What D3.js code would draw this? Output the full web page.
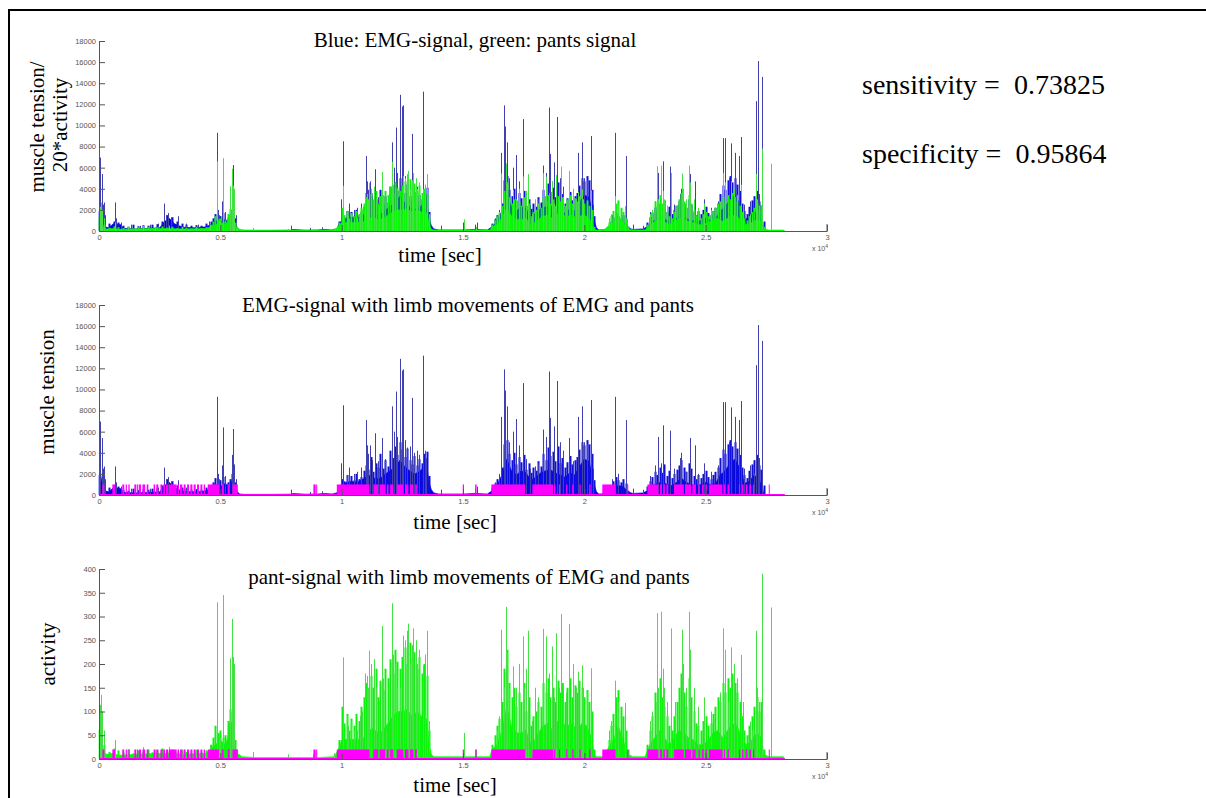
<!DOCTYPE html>
<html>
<head>
<meta charset="utf-8">
<script src="https://cdn.jsdelivr.net/npm/d3@7"></script>
<style>
  body { margin: 0; background: #fff; }
  svg { display: block; }
</style>
</head>
<body>
<svg id="fig" width="1206" height="798"></svg>
<script>
// ---- data (time in seconds) ----
const timeTicks = [0, 5000, 10000, 15000, 20000, 25000, 30000];
const tensionTicks = [0, 2000, 4000, 6000, 8000, 10000, 12000, 14000, 16000, 18000];
const activityTicks = [0, 50, 100, 150, 200, 250, 300, 350, 400];

// EMG signal: solid core of the trace [t, tension]
const emgBody = [
  [0,1800],[50,2200],[150,900],[250,400],[400,300],[600,700],[900,600],[1000,250],[1500,200],
  [2000,250],[2500,300],[2700,900],[2900,1200],[3100,700],[3300,500],[3500,350],[4000,300],
  [4400,400],[4600,600],[4800,1000],[5000,800],[5200,1100],[5400,800],[5500,1500],[5600,800],
  [5700,300],[5800,100],[6000,60],[7000,60],[7900,80],[8000,150],[8500,80],[9000,100],[9300,150],
  [9600,100],[9800,200],[9900,700],[10000,1000],[10200,1200],[10400,1300],[10600,1200],[10800,1400],
  [11000,1700],[11200,1900],[11400,1500],[11600,1600],[11800,2000],[12000,2300],[12200,2700],
  [12400,3300],[12600,2700],[12800,2300],[13000,2000],[13200,2200],[13400,2700],[13500,2900],
  [13600,1200],[13700,500],[13800,200],[14000,100],[15000,100],[15500,150],[16000,100],[16200,400],
  [16400,900],[16600,1900],[16800,3400],[17000,2300],[17200,1900],[17400,2300],[17600,2100],
  [17800,1400],[18000,1700],[18200,2100],[18400,2300],[18600,2400],[18800,2100],[19000,1900],
  [19200,1700],[19400,2100],[19600,1900],[19800,2700],[20000,3400],[20200,3200],[20400,1100],
  [20500,300],[20600,100],[21000,150],[21200,600],[21400,900],[21600,800],[21800,300],[22000,150],
  [22400,200],[22600,400],[22800,900],[23000,1100],[23200,1300],[23400,1000],[23600,900],
  [23800,1200],[24000,1600],[24200,1200],[24400,1000],[24600,900],[24800,1000],[25000,1200],
  [25200,1000],[25400,1100],[25600,1900],[25800,2300],[26000,3000],[26200,3400],[26400,2600],
  [26600,1100],[26800,1300],[27000,1900],[27200,1500],[27350,600],[27400,0]
];

// EMG signal: fine fluctuations above the core [t, tension]
const emgHair = [
  [200,1200],[400,700],[600,900],[800,800],[1000,500],[1200,400],[1400,600],[1600,450],[1800,550],
  [2000,500],[2200,600],[2400,650],[2600,900],[2800,1500],[3000,1300],[3200,900],[3400,700],
  [3600,600],[3800,500],[4000,550],[4200,500],[4400,700],[4600,900],[4700,1200],[4800,1600],
  [5000,1400],[5100,1700],[5300,1200],[5400,1500],[5500,2000],[5600,1200],
  [9900,900],[10000,1500],[10100,1300],[10200,1900],[10300,1200],[10400,1800],[10500,1400],
  [10600,2000],[10700,1500],[10800,1700],[10900,2300],[11000,2800],[11100,2400],[11200,3600],
  [11300,2200],[11400,3000],[11500,2600],[11600,3900],[11700,2500],[11800,3300],[11900,2700],
  [12000,4200],[12100,3500],[12200,4600],[12300,3800],[12400,5000],[12500,4300],[12600,3600],
  [12700,4400],[12800,3300],[12900,2900],[13000,3700],[13100,2800],[13200,3400],[13300,3000],
  [13400,3900],[13500,4100],[13600,1800],
  [16200,700],[16300,1100],[16400,1500],[16500,1300],[16600,2600],[16700,4800],[16800,5200],
  [16900,3900],[17000,3300],[17100,4000],[17200,2900],[17300,3600],[17400,3100],[17500,3800],
  [17600,2400],[17700,3000],[17800,2100],[17900,2600],[18000,2300],[18100,3200],[18200,2700],
  [18300,3900],[18400,3300],[18500,4500],[18600,3700],[18700,4100],[18800,3200],[18900,4600],
  [19000,3000],[19100,3500],[19200,2600],[19300,3100],[19400,3700],[19500,2900],[19600,3300],
  [19700,3600],[19800,4300],[19900,5000],[20000,4700],[20100,5200],[20200,4800],[20300,3900],
  [20400,1400],
  [21000,400],[21100,900],[21200,1300],[21300,1700],[21400,1400],[21500,1200],[21600,1500],
  [21700,1100],[21800,400],
  [22600,800],[22700,1300],[22800,1700],[22900,2200],[23000,1900],[23100,2600],[23200,2100],
  [23300,2900],[23400,1800],[23500,2300],[23600,1600],[23700,2000],[23800,2400],[23900,2800],
  [24000,3300],[24100,2600],[24200,2200],[24300,3000],[24400,2500],[24500,1800],[24600,1500],
  [24700,1900],[24800,1600],[24900,2000],[25000,2300],[25100,1700],[25200,1500],[25300,1900],
  [25400,2200],[25500,2600],[25600,3500],[25700,4300],[25800,3900],[25900,4800],[26000,5200],
  [26100,4600],[26200,5000],[26300,4400],[26400,3800],[26500,2600],[26600,1900],[26700,1600],
  [26800,2300],[26900,2900],[27000,3300],[27100,3800],[27200,2800],[27300,2400],[27400,900]
];

// EMG signal: isolated peaks [t, tension]
const emgSpikes = [
  [30,6950],[60,6800],[120,5400],[180,2500],[220,2700],[260,1500],[660,2700],[720,1200],[900,800],
  [1300,600],[1700,500],[2100,600],[2450,700],[2680,2600],[2760,1500],[2850,1700],[2950,1300],
  [3270,1400],[3600,700],[4100,600],[4550,900],[4850,9300],[4900,2000],[4950,1500],[5050,2800],
  [5120,6400],[5200,1800],[5480,3800],[5530,6250],[5570,2900],[5650,1500],[7900,500],[8700,300],
  [9200,350],[9960,3000],[10070,8500],[10200,1900],[10300,2600],[10500,2000],[10650,2200],
  [10800,2600],[10990,7100],[11030,4700],[11100,3900],[11170,4700],[11230,3300],[11370,5850],
  [11500,3200],[11680,5400],[11800,3400],[12060,8400],[12150,6000],[12220,9800],[12300,5500],
  [12390,12900],[12470,11800],[12540,11900],[12600,5200],[12680,4500],[12800,4600],[12910,9200],
  [13000,4000],[13100,4200],[13200,3800],[13370,13200],[13420,4200],[13480,3500],[14100,500],
  [15000,800],[15480,600],[15560,800],[16300,1200],[16500,2000],[16580,7400],[16690,11900],
  [16750,9900],[16810,8400],[16900,5000],[17040,6000],[17200,7200],[17300,4700],[17480,10600],
  [17600,3400],[17750,2500],[17960,2700],[18100,3000],[18310,6200],[18440,5500],[18530,11700],
  [18580,7300],[18750,6500],[18860,10800],[19000,5000],[19130,4200],[19380,5400],[19550,3200],
  [19750,7400],[19890,8400],[20000,5000],[20100,4800],[20260,9000],[20350,2500],[21000,600],
  [21150,1500],[21270,9300],[21400,2000],[21710,7100],[22000,600],[22400,500],[22700,1800],
  [22900,2800],[23030,5500],[23150,3000],[23260,6600],[23510,6100],[23700,2500],[23950,3500],
  [24000,4000],[24200,2200],[24370,5400],[24560,4700],[24700,2000],[24920,3000],[25200,2200],
  [25500,2800],[25720,8800],[25810,8800],[25950,5000],[26050,8300],[26200,7400],[26360,7100],
  [26460,8900],[26600,2500],[26820,2800],[26980,2000],[27090,12300],[27140,16100],[27180,3500],
  [27330,14600]
];

// pants signal: solid core of the trace [t, activity]
const pantsBody = [
  [0,60],[100,40],[200,15],[300,10],[600,12],[800,8],[1500,10],[2500,12],[3500,10],[4400,12],
  [4600,20],[4800,30],[5000,40],[5200,30],[5300,45],[5400,80],[5500,75],[5600,25],[5700,12],
  [5900,5],[6500,3],[9000,3],[9700,5],[9900,25],[10000,40],[10300,42],[10600,40],[10900,45],
  [11100,60],[11300,65],[11500,55],[11700,60],[11900,75],[12100,90],[12300,100],[12500,100],
  [12700,105],[12900,90],[13100,100],[13300,90],[13500,85],[13600,30],[13700,10],[13800,5],
  [16100,5],[16200,20],[16400,30],[16600,60],[16800,110],[17000,70],[17200,55],[17400,55],
  [17600,60],[17800,30],[17950,40],[18100,55],[18300,70],[18500,75],[18700,60],[18900,80],
  [19100,75],[19300,70],[19500,75],[19700,60],[19900,75],[20100,70],[20300,45],[20400,10],
  [20500,5],[20800,5],[21000,25],[21200,40],[21400,70],[21600,40],[21800,10],[22000,5],[22500,5],
  [22700,30],[22900,45],[23100,60],[23300,45],[23500,30],[23700,45],[23900,60],[24100,55],
  [24300,45],[24500,40],[24700,30],[24900,30],[25100,40],[25300,55],[25500,60],[25700,45],
  [25900,60],[26100,75],[26300,70],[26500,40],[26700,30],[26900,40],[27100,55],[27300,45],
  [27400,10],[27600,5],[28200,5],[28260,0]
];

// pants signal: fine fluctuations above the core [t, activity]
const pantsHair = [
  [200,30],[400,15],[600,22],[800,18],[1000,14],[1200,20],[1400,12],[1600,18],[1800,15],[2000,20],
  [2200,14],[2400,18],[2600,22],[2800,16],[3000,20],[3200,14],[3400,18],[3600,15],[3800,12],
  [4000,16],[4200,14],[4400,18],[4600,30],[4700,45],[4800,70],[4900,55],[5000,60],[5100,45],
  [5200,50],[5300,80],[5400,105],[5500,100],[5600,40],
  [9900,40],[10000,110],[10100,75],[10200,95],[10300,60],[10400,85],[10500,70],[10600,95],
  [10700,80],[10800,110],[10900,130],[11000,160],[11100,140],[11200,175],[11300,150],[11400,190],
  [11500,130],[11600,165],[11700,145],[11800,190],[11900,170],[12000,210],[12100,180],[12200,230],
  [12300,205],[12400,190],[12500,215],[12600,235],[12700,200],[12800,245],[12900,210],[13000,225],
  [13100,190],[13200,215],[13300,180],[13400,200],[13500,175],[13600,60],
  [16200,30],[16300,50],[16400,70],[16500,85],[16600,120],[16700,190],[16800,230],[16900,160],
  [17000,130],[17100,150],[17200,110],[17300,140],[17400,120],[17500,160],[17600,100],[17700,130],
  [17800,70],[17900,90],[18000,100],[18100,120],[18200,110],[18300,160],[18400,140],[18500,170],
  [18600,130],[18700,150],[18800,120],[18900,165],[19000,140],[19100,160],[19200,120],[19300,150],
  [19400,170],[19500,130],[19600,155],[19700,140],[19800,165],[19900,150],[20000,130],[20100,145],
  [20200,120],[20300,100],[20400,20],
  [21000,40],[21100,70],[21200,95],[21300,130],[21400,145],[21500,110],[21600,90],[21700,60],
  [21800,20],
  [22600,30],[22700,60],[22800,90],[22900,140],[23000,120],[23100,170],[23200,130],[23300,110],
  [23400,90],[23500,70],[23600,60],[23700,90],[23800,120],[23900,150],[24000,180],[24100,140],
  [24200,110],[24300,170],[24400,130],[24500,100],[24600,75],[24700,70],[24800,60],[24900,80],
  [25000,90],[25100,70],[25200,75],[25300,95],[25400,110],[25500,130],[25600,120],[25700,160],
  [25800,140],[25900,170],[26000,150],[26100,180],[26200,160],[26300,140],[26400,120],[26500,90],
  [26600,60],[26700,50],[26800,70],[26900,90],[27000,110],[27100,130],[27200,100],[27300,120],
  [27400,20]
];

// pants signal: isolated peaks [t, activity]
const pantsSpikes = [
  [20,139],[50,114],[90,135],[130,100],[200,60],[660,40],[1200,20],[1800,25],[2300,20],[2900,25],
  [3400,20],[4000,20],[4570,30],[4850,330],[4880,80],[4950,50],[5000,45],[5100,160],[5120,345],
  [5380,100],[5410,212],[5470,295],[5520,215],[5560,200],[5700,20],[6360,15],[7800,10],[8800,10],
  [9700,12],[10040,214],[10070,200],[10200,90],[10280,70],[10400,80],[10500,60],[10620,60],
  [10750,90],[10850,100],[10960,180],[11030,175],[11080,150],[11140,228],[11200,200],[11330,210],
  [11400,150],[11550,120],[11650,280],[11700,170],[11820,60],[12060,328],[12130,220],[12200,200],
  [12300,150],[12410,150],[12540,260],[12610,250],[12680,270],[12750,285],[12820,200],[12900,240],
  [12960,275],[13050,250],[13100,200],[13200,230],[13350,197],[13430,220],[13520,270],[13600,80],
  [15040,55],[15550,20],[16400,60],[16500,90],[16580,272],[16680,150],[16790,320],[16820,225],
  [16900,150],[17070,195],[17200,150],[17310,200],[17480,258],[17520,150],[17600,190],[17690,270],
  [17850,80],[17960,150],[18100,130],[18310,274],[18440,258],[18550,180],[18650,237],[18750,130],
  [18840,265],[18950,150],[19040,305],[19130,160],[19250,140],[19380,284],[19550,200],[19650,150],
  [19750,184],[19890,197],[19950,150],[20100,140],[20260,191],[21000,60],[21100,80],[21270,165],
  [21400,120],[21680,118],[22700,80],[22800,100],[22990,307],[23050,150],[23160,310],[23260,190],
  [23300,150],[23420,120],[23570,275],[23750,120],[24020,272],[24070,200],[24200,150],[24310,310],
  [24360,230],[24500,150],[24700,110],[24940,130],[25200,100],[25600,140],[25720,275],[25810,230],
  [25900,120],[26050,235],[26150,200],[26300,170],[26460,219],[26550,120],[26820,79],[26900,60],
  [27090,270],[27120,150],[27200,120],[27330,390],[27710,319]
];

// detected limb movements [start, end]
const movements = [
  [140,220],[550,660],[960,1040],[1100,1150],[1210,1265],[1456,1540],[1570,1620],[1650,1730],
  [1790,1900],[1965,2035],[2250,2310],[2360,2445],[2530,2610],[2650,2720],[2760,2850],[2880,3200],
  [3240,3300],[3340,3435],[3490,3570],[3630,3710],[3765,3850],[3900,3985],[4040,4120],[4180,4260],
  [4315,4370],[4480,4950],[5060,5140],[5300,5390],[5500,5720],[8835,8930],[8950,8990],
  [9800,11150],[11310,11500],[11560,11790],[11860,11930],[12000,12130],[12270,12545],[12610,12750],
  [12820,12960],[13030,13100],[14990,15040],[15500,15560],[16170,17560],[17860,18710],[18750,18800],
  [18950,19000],[19250,19300],[19500,19560],[19800,19850],[20200,20260],[20740,21290],[21770,21800],
  [22600,23050],[23120,23200],[23260,23320],[23380,23460],[23700,24100],[24150,24400],[24450,24590],
  [24700,24760],[24850,24920],[24990,25050],[25140,25690],[25750,25800],[25900,25960],[26370,26420],
  [26500,26560],[26650,26720],[26800,26870],[26950,27000],[27600,27630]
];
const movementLevelEmg = 1000;
const movementLevelPants = 20;
const pantsGain = 20;
const recordingEnd = 28260;

const sensitivity = 0.73825;
const specificity = 0.95864;

// ---- drawing ----
const svg = d3.select("#fig");
const serif = "'Liberation Serif', 'Times New Roman', serif";
const sans = "'Liberation Sans', Arial, sans-serif";

// frame
svg.append("line").attr("x1", 8).attr("x2", 1206).attr("y1", 10).attr("y2", 10)
  .attr("stroke", "#000").attr("stroke-width", 2);
svg.append("line").attr("x1", 9).attr("x2", 9).attr("y1", 9).attr("y2", 798)
  .attr("stroke", "#000").attr("stroke-width", 2);

const x = d3.scaleLinear().domain([0, 30000]).range([99, 827]);

function drawBody(g, y, data, gain, fill) {
  const area = d3.area()
    .x(d => x(d[0]))
    .y0(y(0))
    .y1(d => y(d[1] * gain));
  g.append("path").datum(data).attr("d", area).attr("fill", fill).attr("stroke", fill)
    .attr("stroke-width", 0.6);
}

function drawSpikes(g, y, data, gain, stroke, width) {
  g.append("g").selectAll("line").data(data).join("line")
    .attr("x1", d => Math.round(x(d[0])) + 0.5)
    .attr("x2", d => Math.round(x(d[0])) + 0.5)
    .attr("y1", y(0))
    .attr("y2", d => y(d[1] * gain))
    .attr("stroke", stroke).attr("stroke-width", width || 1);
}

function drawMovements(g, y, level) {
  g.append("line").attr("x1", x(0)).attr("x2", x(recordingEnd))
    .attr("y1", y(0) - 0.5).attr("y2", y(0) - 0.5)
    .attr("stroke", "#ff00ff").attr("stroke-width", 1);
  g.append("g").selectAll("rect").data(movements).join("rect")
    .attr("x", d => x(d[0]))
    .attr("width", d => Math.max(1, x(d[1]) - x(d[0])))
    .attr("y", y(level))
    .attr("height", y(0) - y(level))
    .attr("fill", "#ff00ff");
}

function drawAxes(g, y, ticks, bottom) {
  const yAxis = d3.axisLeft(y).tickValues(ticks).tickSizeInner(-6).tickSizeOuter(0)
    .tickPadding(3).tickFormat(d3.format("d"));
  const xAxis = d3.axisBottom(x).tickValues(timeTicks).tickSizeInner(-6).tickSizeOuter(0)
    .tickPadding(4).tickFormat(d => d3.format("~g")(d / 1e4));
  const ya = g.append("g").attr("transform", `translate(${x(0)},0)`).call(yAxis);
  const xa = g.append("g").attr("transform", `translate(0,${bottom})`).call(xAxis);
  [ya, xa].forEach(a => {
    a.selectAll("path, line").attr("stroke", "#555").attr("stroke-width", 1);
    a.selectAll("text").attr("fill", "#555").style("font-family", sans).style("font-size", "7.5px");
  });
  // right-end tick of the time axis
  g.append("line").attr("x1", x(30000)).attr("x2", x(30000)).attr("y1", bottom).attr("y2", bottom - 7)
    .attr("stroke", "#555");
  // exponent label
  const ex = g.append("text").attr("x", 828).attr("y", bottom + 20).attr("text-anchor", "end")
    .attr("fill", "#555").style("font-family", sans).style("font-size", "7px").text("x 10");
  ex.append("tspan").attr("dy", -3).style("font-size", "5px").text("4");
}

function label(txt, px, py, size, rotate, anchor) {
  const t = svg.append("text").attr("text-anchor", anchor || "middle")
    .style("font-family", serif).style("font-size", size + "px").style("white-space", "pre")
    .attr("fill", "#000").text(txt);
  if (rotate) t.attr("transform", `translate(${px},${py}) rotate(-90)`);
  else t.attr("x", px).attr("y", py);
  return t;
}

const blueCore = "#0000ee", blueLine = "#1010d8", bluePeak = "#4040b0";
const greenCore = "#00ff00", greenLine = "#10f010", greenPeak = "#44e044";

// panel 1: EMG and scaled pants signal
{
  const top = 41, bottom = 231;
  const y = d3.scaleLinear().domain([0, 18000]).range([bottom, top]);
  const g = svg.append("g");
  drawBody(g, y, emgBody, 1, blueCore);
  drawSpikes(g, y, emgHair, 1, blueLine, 2);
  drawSpikes(g, y, emgSpikes, 1, bluePeak);
  drawBody(g, y, pantsBody, pantsGain, greenCore);
  drawSpikes(g, y, pantsHair, pantsGain, greenLine, 2);
  drawSpikes(g, y, pantsSpikes, pantsGain, greenPeak);
  drawAxes(g, y, tensionTicks, bottom);
  label("Blue: EMG-signal, green: pants signal", 475, 47, 21);
  label("time [sec]", 440, 262, 21);
  label("muscle tension/", 44, 127, 21, true);
  label("20*activity", 67, 125, 21, true);
}

// panel 2: EMG with limb movements
{
  const top = 305, bottom = 495;
  const y = d3.scaleLinear().domain([0, 18000]).range([bottom, top]);
  const g = svg.append("g");
  drawBody(g, y, emgBody, 1, blueCore);
  drawSpikes(g, y, emgHair, 1, blueLine, 2);
  drawSpikes(g, y, emgSpikes, 1, bluePeak);
  drawMovements(g, y, movementLevelEmg);
  drawAxes(g, y, tensionTicks, bottom);
  label("EMG-signal with limb movements of EMG and pants", 468, 312, 21);
  label("time [sec]", 455, 529, 21);
  label("muscle tension", 54, 392, 21, true);
}

// panel 3: pants signal with limb movements
{
  const top = 569, bottom = 759;
  const y = d3.scaleLinear().domain([0, 400]).range([bottom, top]);
  const g = svg.append("g");
  drawBody(g, y, pantsBody, 1, greenCore);
  drawSpikes(g, y, pantsHair, 1, greenLine, 2);
  drawSpikes(g, y, pantsSpikes, 1, greenPeak);
  drawMovements(g, y, movementLevelPants);
  drawAxes(g, y, activityTicks, bottom);
  label("pant-signal with limb movements of EMG and pants", 469, 584, 21);
  label("time [sec]", 455, 792, 21);
  label("activity", 55, 654, 21, true);
}

// detection scores
label("sensitivity =  " + sensitivity, 862, 94, 28, false, "start");
label("specificity =  " + specificity, 862, 163, 28, false, "start");
</script>
</body>
</html>
